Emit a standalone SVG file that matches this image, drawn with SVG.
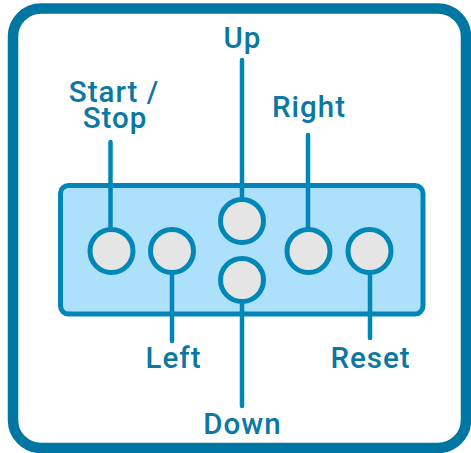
<svg xmlns="http://www.w3.org/2000/svg" width="471" height="453" viewBox="0 0 471 453">
<style>
.frame{fill:#ffffff;stroke:#0077a3;stroke-width:10.5}
.panel{fill:#ade0fa;stroke:#0087b8;stroke-width:5}
.btn{fill:#e5e5e5;stroke:#0087b8;stroke-width:5}
.ln{stroke:#0087b8;stroke-width:4.5;stroke-linecap:round;fill:none}
text{font-family:Roboto,"Liberation Sans",sans-serif;font-weight:500;font-size:29.5px;letter-spacing:1px;fill:#0a78a2;text-anchor:middle}
</style>
<rect class="frame" x="13" y="8.5" width="453" height="439.5" rx="28"/>
<g id="panel"><rect class="panel" x="60.5" y="185.5" width="362.5" height="128.5" rx="8"/></g>
<g id="connectors">
<line class="ln" x1="110.5" y1="142" x2="110.5" y2="230"/>
<line class="ln" x1="242" y1="60" x2="242" y2="200"/>
<line class="ln" x1="308" y1="135" x2="308" y2="230"/>
<line class="ln" x1="172" y1="272" x2="172" y2="341"/>
<line class="ln" x1="370" y1="272" x2="370" y2="338"/>
<line class="ln" x1="242" y1="301" x2="242" y2="406"/>
</g>
<g id="start-stop"><circle class="btn" cx="111.5" cy="251" r="21.5"/><text x="114" y="102">Start /</text><text x="115" y="128">Stop</text></g>
<g id="left"><circle class="btn" cx="172" cy="251" r="21.5"/><text x="173.5" y="368">Left</text></g>
<g id="up"><circle class="btn" cx="242" cy="221" r="21.5"/><text x="242.5" y="48">Up</text></g>
<g id="down"><circle class="btn" cx="242" cy="280" r="21.5"/><text x="242.5" y="434">Down</text></g>
<g id="right"><circle class="btn" cx="308.5" cy="251" r="21.5"/><text x="309" y="117">Right</text></g>
<g id="reset"><circle class="btn" cx="369.5" cy="251" r="21.5"/><text x="370.5" y="368">Reset</text></g>
</svg>
